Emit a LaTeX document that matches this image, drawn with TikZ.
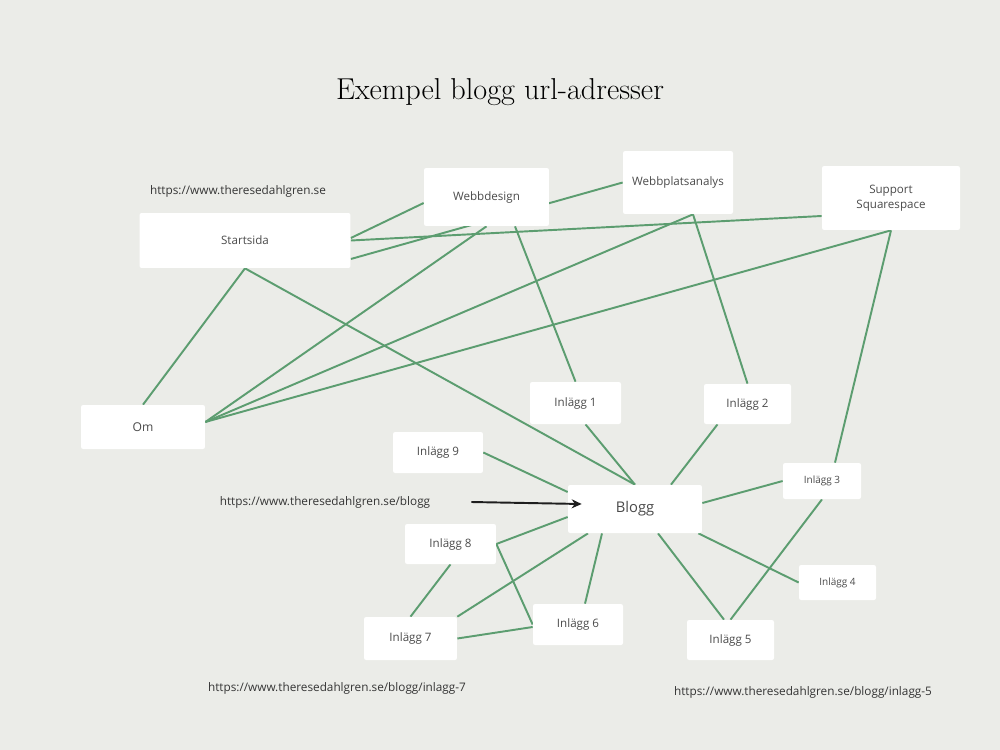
\documentclass[tikz,border=0pt]{standalone}
\usepackage{fontspec}
\setsansfont{Open Sans}
\usetikzlibrary{arrows.meta,calc}
\definecolor{paper}{RGB}{235,236,232}
\definecolor{leaf}{RGB}{92,157,112}
\definecolor{ink}{RGB}{30,30,30}
\definecolor{label}{RGB}{75,75,75}
\pgfdeclarelayer{bg}
\pgfdeclarelayer{wires}
\pgfsetlayers{bg,wires,main}
\tikzset{
  >={Stealth[length=2mm,width=1.8mm]},
  box/.style={fill=white,rounded corners=1.2pt,inner sep=0pt,align=center,
    text=label,font=\sffamily\fontsize{6.6}{8.4}\selectfont},
  small box/.style={box,font=\sffamily\fontsize{5.7}{7}\selectfont},
  link/.style={draw=leaf,line width=1.1pt},
  url/.style={text=ink!90,font=\sffamily\fontsize{6.7}{8}\selectfont},
  pointer/.style={->,draw=ink,line width=1.1pt},
}
\begin{document}
\begin{tikzpicture}[x=0.02cm,y=-0.02cm]
  \begin{pgfonlayer}{bg}
    \fill[paper] (0,0) rectangle (1000,750);
  \end{pgfonlayer}
  \useasboundingbox (0,0) rectangle (1000,750);

  \node[font=\fontsize{17.2}{20}\selectfont,text=black] (title) at (500,92) {Exempel blogg url-adresser};

  % pages
  \node[box,minimum width=4.22cm,minimum height=1.1cm] (start) at (245,240.5) {Startsida};
  \node[box,minimum width=2.5cm,minimum height=1.16cm] (wdes) at (486.5,197) {Webbdesign};
  \node[box,minimum width=2.2cm,minimum height=1.26cm] (wpa) at (678,182.5) {Webbplatsanalys};
  \node[box,minimum width=2.76cm,minimum height=1.28cm] (sup) at (891,198) {Support\\Squarespace};
  \node[box,minimum width=2.48cm,minimum height=0.88cm,font=\sffamily\fontsize{6.9}{8}\selectfont] (om) at (143,427) {Om};
  \node[box,minimum width=2.68cm,minimum height=0.96cm,font=\sffamily\fontsize{8.4}{10}\selectfont] (blogg) at (635,509) {Blogg};

  % posts
  \node[box,minimum width=1.82cm,minimum height=0.84cm] (i1) at (575.5,403) {Inlägg 1};
  \node[box,minimum width=1.74cm,minimum height=0.8cm] (i2) at (747.5,404) {Inlägg 2};
  \node[small box,minimum width=1.56cm,minimum height=0.72cm] (i3) at (822,481) {Inlägg 3};
  \node[small box,minimum width=1.54cm,minimum height=0.7cm] (i4) at (837.5,582.5) {Inlägg 4};
  \node[box,minimum width=1.74cm,minimum height=0.8cm] (i5) at (730.5,640) {Inlägg 5};
  \node[box,minimum width=1.8cm,minimum height=0.82cm] (i6) at (578,624.5) {Inlägg 6};
  \node[box,minimum width=1.86cm,minimum height=0.86cm] (i7) at (410.5,638.5) {Inlägg 7};
  \node[box,minimum width=1.82cm,minimum height=0.8cm] (i8) at (450.5,544) {Inlägg 8};
  \node[box,minimum width=1.8cm,minimum height=0.82cm] (i9) at (438,452.5) {Inlägg 9};

  % addresses
  \node[url] (u1) at (238,191) {https://www.theresedahlgren.se};
  \node[url] (u2) at (325,502) {https://www.theresedahlgren.se/blogg};
  \node[url] (u3) at (337,688) {https://www.theresedahlgren.se/blogg/inlagg-7};
  \node[url] (u4) at (803,692) {https://www.theresedahlgren.se/blogg/inlagg-5};

  % links, behind the boxes
  \begin{pgfonlayer}{wires}
    \draw[link] ([yshift=0.05cm]start.east) -- ([yshift=-0.12cm]wdes.west);
    \draw[link] (start.east) -- ([yshift=-0.36cm]sup.west);
    \draw[link] ([yshift=-0.37cm]start.east) -- (wpa.west);
    \draw[link] (start.south) -- (om.north);
    \draw[link] (start.south) -- (blogg.north);
    \draw[link] (wdes.south) -- ([yshift=0.1cm]om.east);
    \draw[link] ([xshift=0.57cm]wdes.south) -- (i1.north);
    \draw[link] ([xshift=0.3cm]wpa.south) -- ([yshift=0.1cm]om.east);
    \draw[link] ([xshift=0.3cm]wpa.south) -- (i2.north);
    \draw[link] (sup.south) -- ([yshift=0.1cm]om.east);
    \draw[link] (sup.south) -- ([xshift=0.26cm]i3.north);
    \draw[link] ([xshift=0.2cm]i1.south) -- (blogg.north);
    \draw[link] ([xshift=-0.6cm]i2.south) -- ([xshift=0.72cm]blogg.north);
    \draw[link] (i9.east) -- ([yshift=0.34cm]blogg.west);
    \draw[link] (i3.west) -- ([yshift=0.12cm]blogg.east);
    \draw[link] ([xshift=-0.08cm]blogg.south east) -- (i4.west);
    \draw[link] ([xshift=0.46cm]blogg.south) -- ([xshift=-0.13cm]i5.north);
    \draw[link] (i3.south) -- (i5.north);
    \draw[link] ([xshift=-0.66cm]blogg.south) -- ([xshift=0.14cm]i6.north);
    \draw[link] ([xshift=-0.94cm]blogg.south) -- (i7.north east);
    \draw[link] ([yshift=-0.16cm]blogg.west) -- (i8.east);
    \draw[link] (i8.east) -- (i6.west);
    \draw[link] (i8.south) -- (i7.north);
    \draw[link] (i7.east) -- ([yshift=-0.05cm]i6.west);
  \end{pgfonlayer}

  \draw[pointer] ([xshift=0.7cm]u2.east) -- ([xshift=0.28cm,yshift=0.1cm]blogg.west);
\end{tikzpicture}
\end{document}
